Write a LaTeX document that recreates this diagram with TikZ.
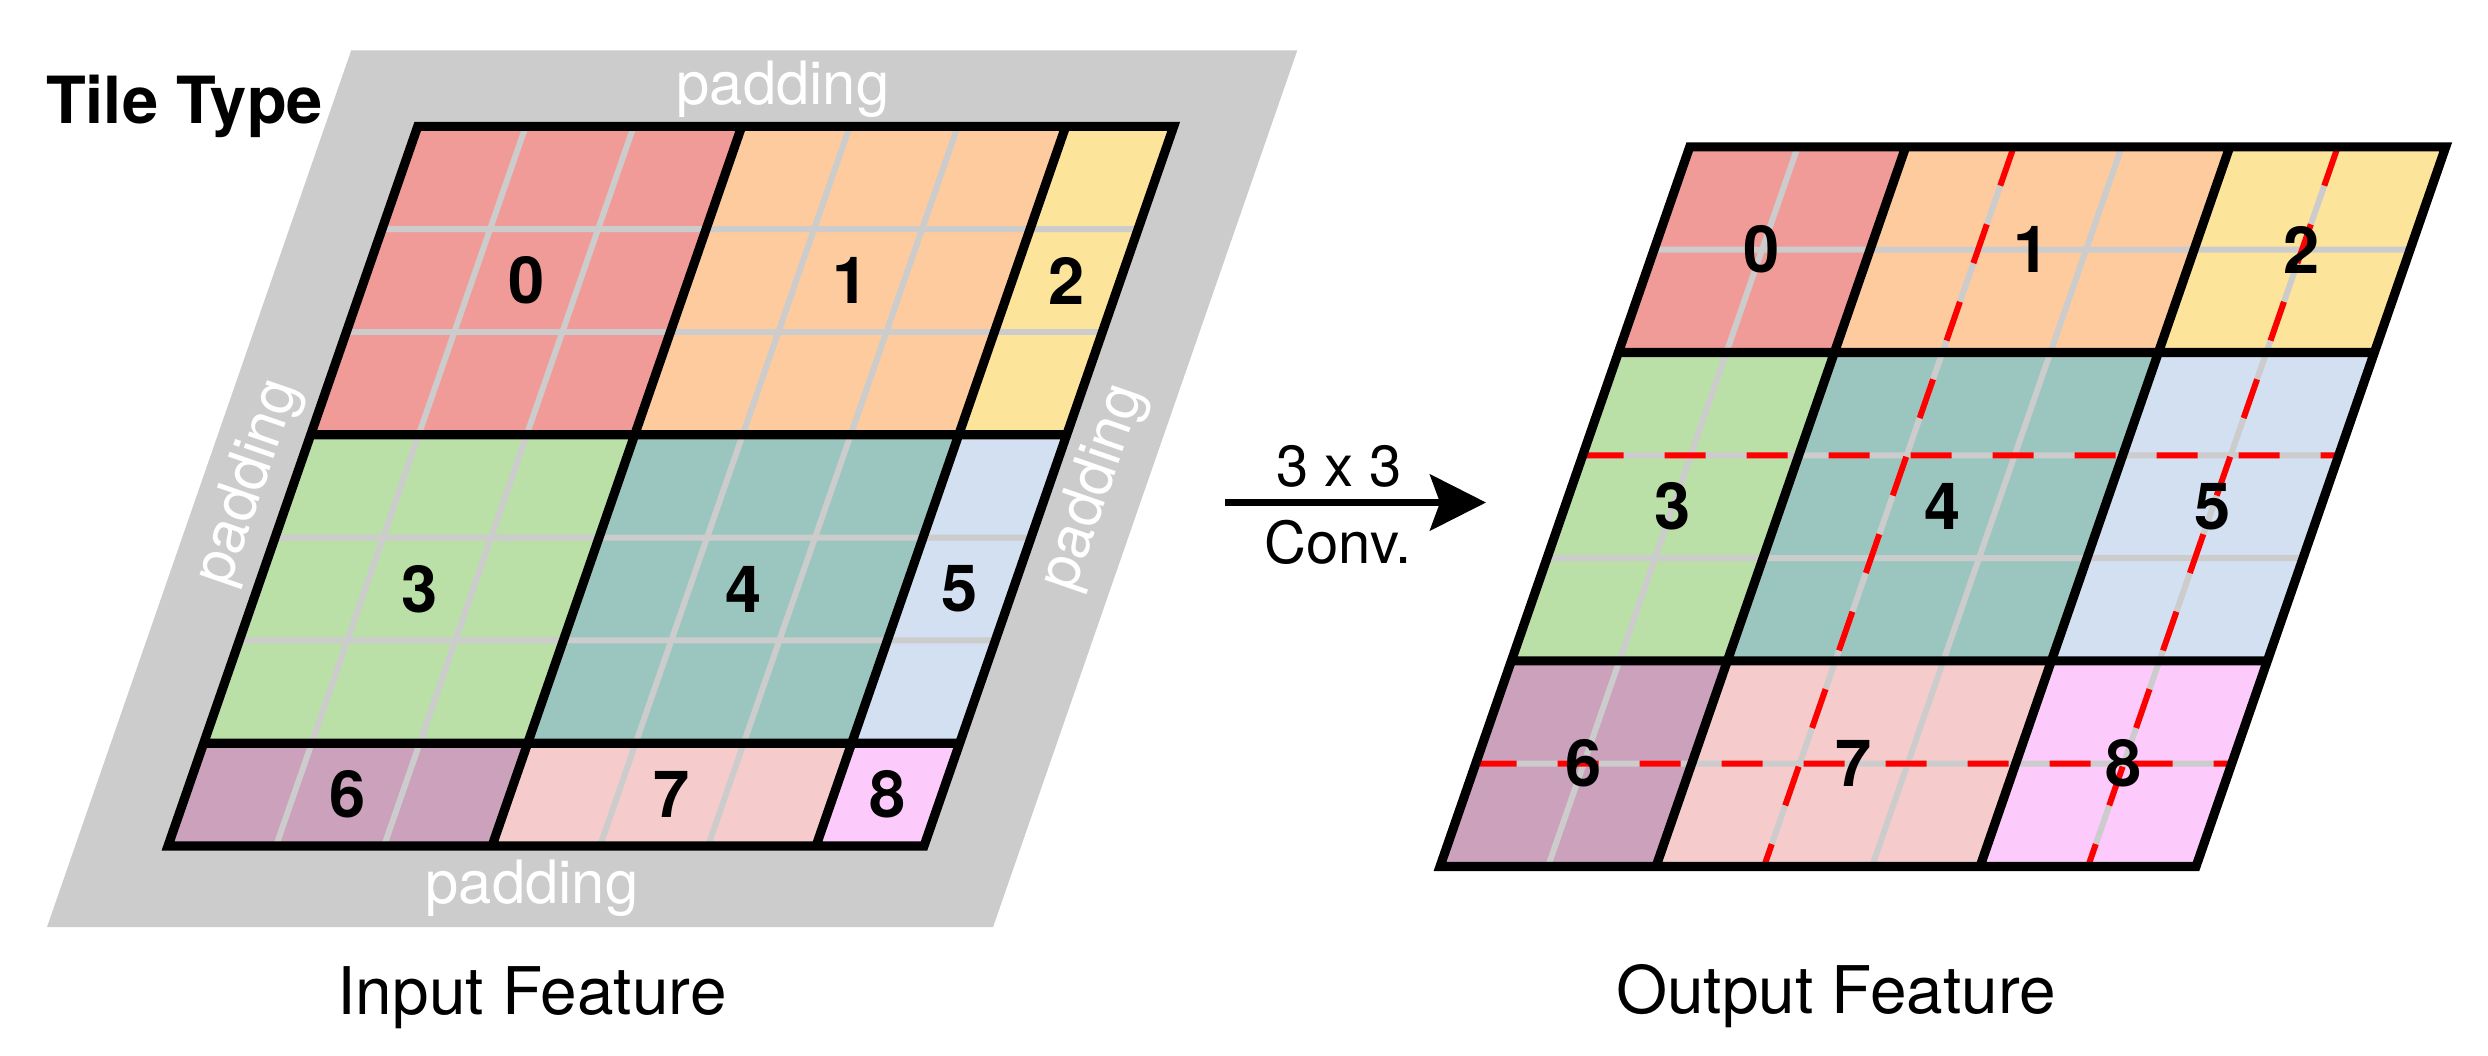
\documentclass[tikz,border=0pt]{standalone}
\usepackage{fontspec}
\setmainfont{TeX Gyre Heros}
\usetikzlibrary{arrows.meta}
\definecolor{padgrey}{HTML}{CCCCCC}
\definecolor{tilezero}{HTML}{F09B98}
\definecolor{tileone}{HTML}{FDCB9D}
\definecolor{tiletwo}{HTML}{FDE49B}
\definecolor{tilethree}{HTML}{BADFA7}
\definecolor{tilefour}{HTML}{9BC6BF}
\definecolor{tilefive}{HTML}{D3E0F1}
\definecolor{tilesix}{HTML}{CBA1BC}
\definecolor{tileseven}{HTML}{F5CCCB}
\definecolor{tileeight}{HTML}{FCCBFC}
\begin{document}
\begin{tikzpicture}[
	border/.style={draw=black,line width=2.6pt,line join=miter},
	cell/.style={draw=padgrey,line width=1.7pt,xstep=1.08cm,ystep=1.028cm},
	cut/.style={draw=red,line width=1.7pt,dash pattern=on 0.41cm off 0.41cm},
	num/.style={font=\bfseries\fontsize{18.5}{20}\selectfont},
	pad/.style={text=white,font=\fontsize{17}{19}\selectfont},
	caption/.style={font=\fontsize{18.7}{21}\selectfont},
	conv/.style={line width=2pt,-{Stealth[length=0.56cm,width=0.56cm,inset=0.1cm]}}]
	\useasboundingbox (0,0) rectangle (24.88,10.55);
	\begin{scope}[shift={(1.68,2.09)},x=1.08cm,y=1.028cm,xslant=0.347]
		\fill[padgrey] (-0.86,-0.79) rectangle (7.9,7.74);
		\fill[tilezero] (0,4) rectangle (3,7);
		\fill[tileone] (3,4) rectangle (6,7);
		\fill[tiletwo] (6,4) rectangle (7,7);
		\fill[tilethree] (0,1) rectangle (3,4);
		\fill[tilefour] (3,1) rectangle (6,4);
		\fill[tilefive] (6,1) rectangle (7,4);
		\fill[tilesix] (0,0) rectangle (3,1);
		\fill[tileseven] (3,0) rectangle (6,1);
		\fill[tileeight] (6,0) rectangle (7,1);
		\draw[cell] (0,0) grid (7,7);
		\draw[border] (0,0) rectangle (7,7) (3,0) -- (3,7) (6,0) -- (6,7) (0,1) -- (7,1) (0,4) -- (7,4);
		\node[num] (in0) at (1.5,5.5) {0};
		\node[num] (in1) at (4.5,5.5) {1};
		\node[num] (in2) at (6.5,5.5) {2};
		\node[num] (in3) at (1.5,2.5) {3};
		\node[num] (in4) at (4.5,2.5) {4};
		\node[num] (in5) at (6.5,2.5) {5};
		\node[num] (in6) at (1.5,0.5) {6};
		\node[num] (in7) at (4.5,0.5) {7};
		\node[num] (in8) at (6.5,0.5) {8};
	\end{scope}
	\begin{scope}[shift={(14.40,1.885)},x=1.08cm,y=1.028cm,xslant=0.347]
		\fill[tilezero] (0,5) rectangle (2,7);
		\fill[tileone] (2,5) rectangle (5,7);
		\fill[tiletwo] (5,5) rectangle (7,7);
		\fill[tilethree] (0,2) rectangle (2,5);
		\fill[tilefour] (2,2) rectangle (5,5);
		\fill[tilefive] (5,2) rectangle (7,5);
		\fill[tilesix] (0,0) rectangle (2,2);
		\fill[tileseven] (2,0) rectangle (5,2);
		\fill[tileeight] (5,0) rectangle (7,2);
		\draw[cell] (0,0) grid (7,7);
		\draw[cut] (3,7) -- (3,0) (6,7) -- (6,0) (0,4) -- (7,4) (0,1) -- (7,1);
		\draw[border] (0,0) rectangle (7,7) (2,0) -- (2,7) (5,0) -- (5,7) (0,2) -- (7,2) (0,5) -- (7,5);
		\node[num] (out0) at (1,6) {0};
		\node[num] (out1) at (3.5,6) {1};
		\node[num] (out2) at (6,6) {2};
		\node[num] (out3) at (1,3.5) {3};
		\node[num] (out4) at (3.5,3.5) {4};
		\node[num] (out5) at (6,3.5) {5};
		\node[num] (out6) at (1,1) {6};
		\node[num] (out7) at (3.5,1) {7};
		\node[num] (out8) at (6,1) {8};
	\end{scope}
	\node[font=\bfseries\fontsize{18.5}{20}\selectfont] (tiletype) at (1.845,9.49) {Tile Type};
	\node[pad] (padtop) at (7.83,9.66) {padding};
	\node[pad] (padbottom) at (5.32,1.67) {padding};
	\node[pad,rotate=70.85] (padleft) at (2.49,5.72) {padding};
	\node[pad,rotate=70.85] (padright) at (10.94,5.67) {padding};
	\node[caption] (infeat) at (5.32,0.57) {Input Feature};
	\node[caption] (outfeat) at (18.36,0.59) {Output Feature};
	\coordinate (convin) at (12.25,5.525);
	\coordinate (convout) at (14.86,5.525);
	\draw[conv] (convin) -- (convout);
	\node[font=\fontsize{16.5}{18}\selectfont] (kernel) at (13.39,5.89) {3 x 3};
	\node[font=\fontsize{16.5}{18}\selectfont] (convname) at (13.38,5.13) {Conv.};
\end{tikzpicture}
\end{document}
